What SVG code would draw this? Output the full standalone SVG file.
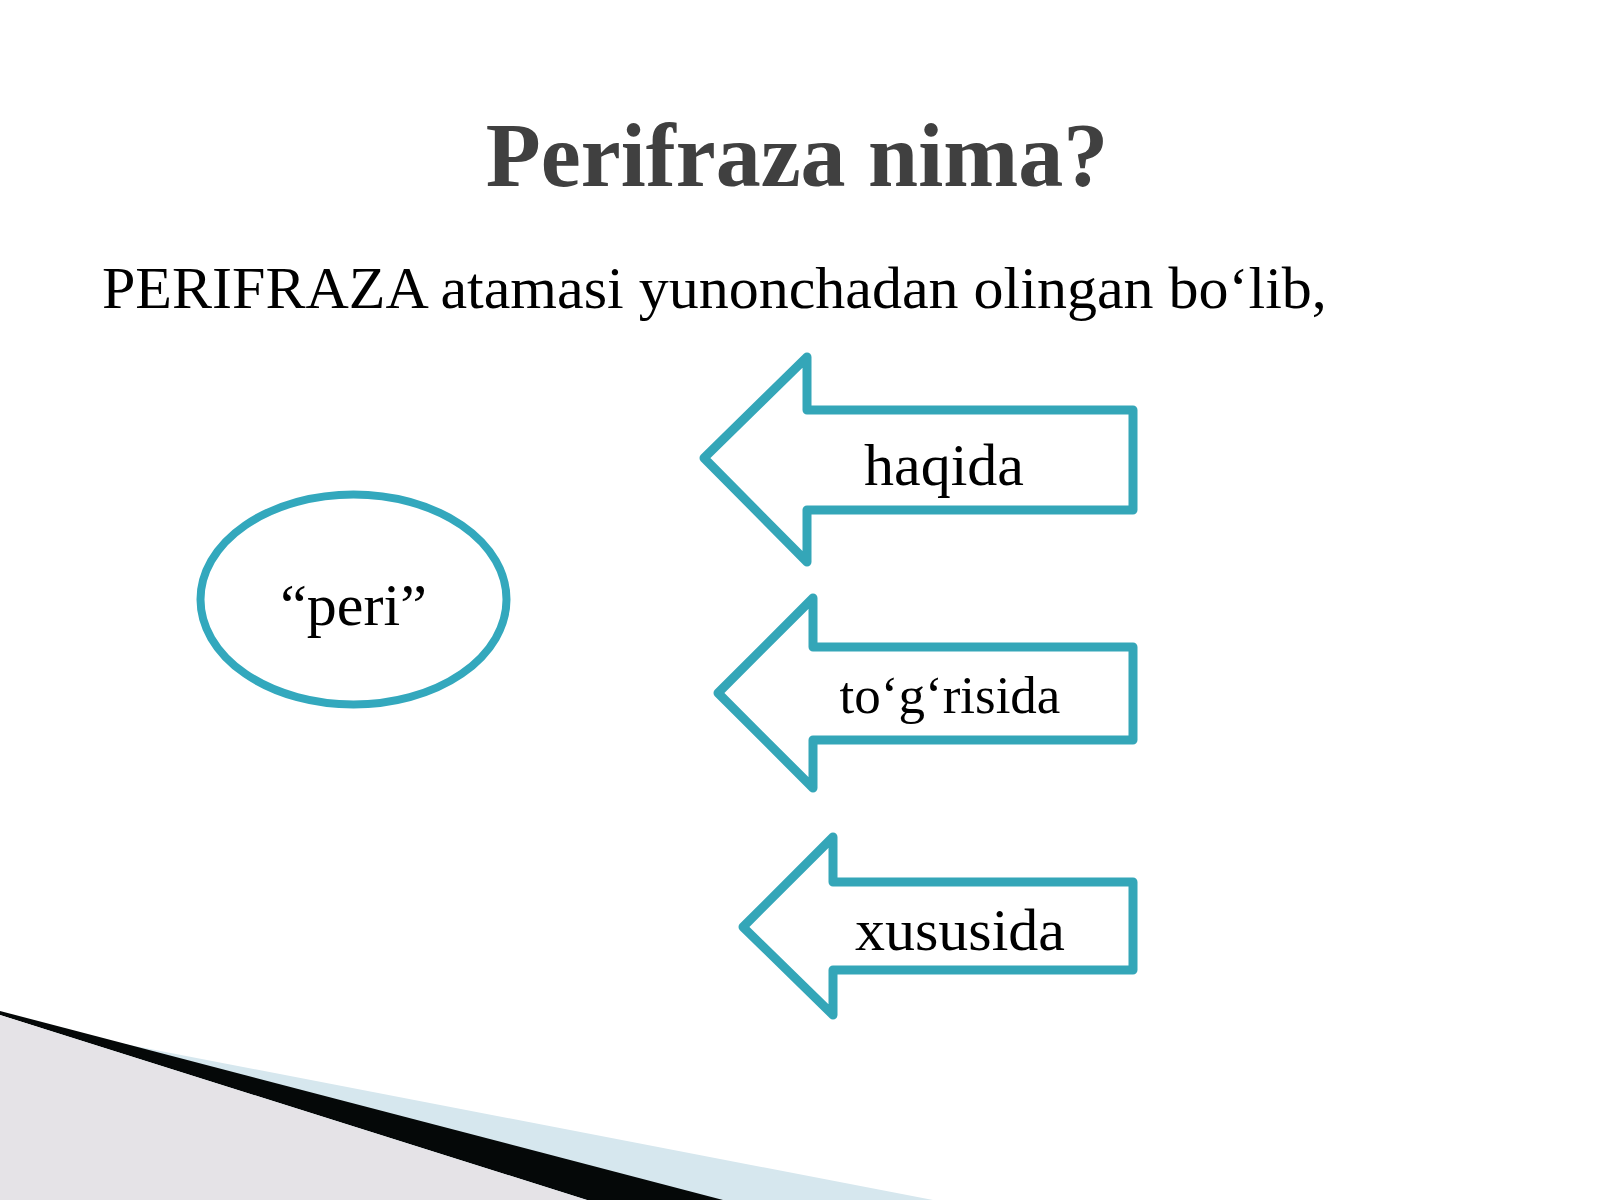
<svg xmlns="http://www.w3.org/2000/svg" width="1600" height="1200" viewBox="0 0 1600 1200">
<style>
.arrow{fill:#ffffff;stroke:#34a6b8;stroke-width:9;stroke-linejoin:round}
.lbl{font-family:"Liberation Serif","Times New Roman",serif;fill:#000000;text-anchor:middle}
</style>
<rect width="1600" height="1200" fill="#ffffff"/>
<g id="page-curl">
<polygon points="0,1020 933,1200 0,1200" fill="#d6e7ee"/>
<polygon points="0,1011 723,1200 587,1200 0,1015" fill="#050808"/>
<polygon points="0,1015 587,1200 0,1200" fill="#e5e3e7"/>
</g>
<g id="title">
<text x="797" y="186" font-family="'Liberation Serif','Times New Roman',serif" font-weight="bold" font-size="90" fill="#404040" text-anchor="middle">Perifraza nima?</text>
</g>
<g id="subtitle">
<text x="102" y="308" font-family="'Liberation Serif','Times New Roman',serif" font-size="60" fill="#000000">PERIFRAZA atamasi yunonchadan olingan bo‘lib,</text>
</g>
<g id="peri">
<ellipse cx="353.5" cy="599.5" rx="153" ry="105" fill="#ffffff" stroke="#33a8bd" stroke-width="8"/>
<text class="lbl" x="353.5" y="625" font-size="60">“peri”</text>
</g>
<g id="connectors"></g>
<g id="haqida">
<polygon class="arrow" points="704,458 807,357 807,410 1133,410 1133,510 807,510 807,562"/>
<text class="lbl" x="944" y="485" font-size="60">haqida</text>
</g>
<g id="togrisida">
<polygon class="arrow" points="718,693 813,598 813,647 1133,647 1133,740 813,740 813,788"/>
<text class="lbl" x="950" y="713" font-size="53">to‘g‘risida</text>
</g>
<g id="xususida">
<polygon class="arrow" points="743,927 833,837 833,882 1133,882 1133,970 833,970 833,1015"/>
<text class="lbl" x="960" y="950" font-size="60">xususida</text>
</g>
</svg>
